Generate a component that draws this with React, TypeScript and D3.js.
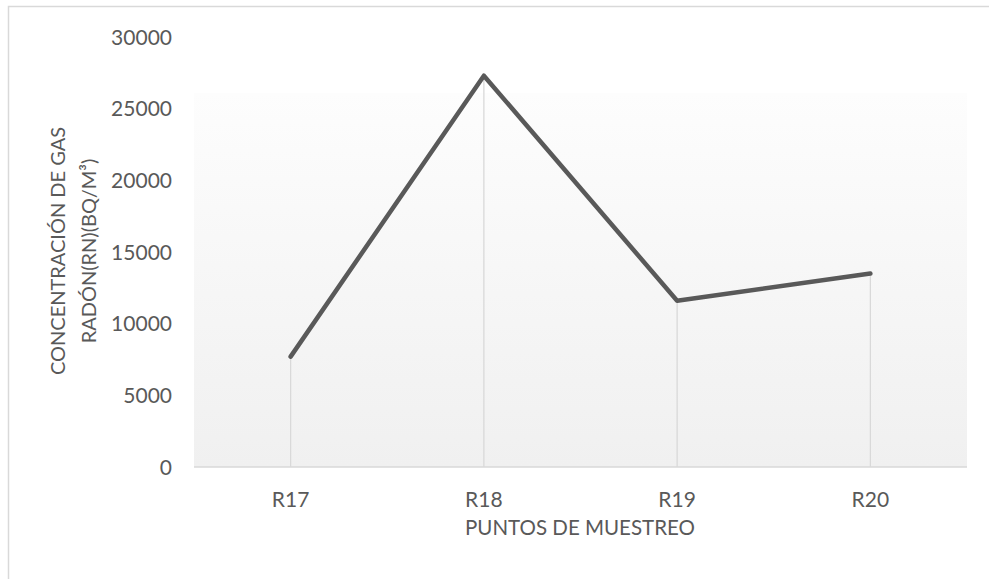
import React from 'react';
import * as d3 from 'd3';

const categories = ['R17', 'R18', 'R19', 'R20'];
const values = [7700, 27300, 11600, 13500];
const yTicks = [0, 5000, 10000, 15000, 20000, 25000, 30000];

const xTitle = 'PUNTOS DE MUESTREO';
const yTitle = ['CONCENTRACIÓN DE GAS', 'RADÓN(RN)(BQ/M³)'];

const width = 989;
const height = 579;
const plot = { left: 194, right: 967, top: 37, bottom: 467, shadeTop: 93 };

const textColor = '#595959';
const gridColor = '#d9d9d9';
const font = 'Lato, "Open Sans", sans-serif';

export default function App() {
  const x = d3
    .scaleBand<string>()
    .domain(categories)
    .range([plot.left, plot.right]);

  const y = d3
    .scaleLinear()
    .domain([0, 30000])
    .range([plot.bottom, plot.top]);

  const line = d3
    .line<number>()
    .x((d, i) => (x(categories[i]) as number) + x.bandwidth() / 2)
    .y((d) => y(d));

  const cx = (c: string) => (x(c) as number) + x.bandwidth() / 2;

  return (
    <svg
      width={width}
      height={height}
      style={{ position: 'absolute', left: 0, top: 0, background: '#fff' }}
      fontFamily={font}
    >
      <defs>
        <linearGradient id="plotShade" x1="0" y1="0" x2="0" y2="1">
          <stop offset="0%" stopColor="#fdfdfd" />
          <stop offset="100%" stopColor="#f0f0f0" />
        </linearGradient>
      </defs>

      {/* chart border */}
      <rect x={8.5} y={6.5} width={width + 20} height={height + 20} fill="none" stroke={gridColor} strokeWidth={1.5} />

      <rect
        x={plot.left}
        y={plot.shadeTop}
        width={plot.right - plot.left}
        height={plot.bottom - plot.shadeTop}
        fill="url(#plotShade)"
      />

      {/* drop lines */}
      {values.map((v, i) => (
        <line
          key={categories[i]}
          x1={cx(categories[i])}
          x2={cx(categories[i])}
          y1={y(v)}
          y2={y(0)}
          stroke={gridColor}
          strokeWidth={1.3}
        />
      ))}

      <line x1={plot.left} x2={plot.right} y1={y(0)} y2={y(0)} stroke={gridColor} strokeWidth={1.5} />

      <path
        d={line(values) || ''}
        fill="none"
        stroke="#595959"
        strokeWidth={4.5}
        strokeLinejoin="round"
        strokeLinecap="round"
      />

      {yTicks.map((t) => (
        <text key={t} x={172} y={y(t)} dy="0.36em" textAnchor="end" fontSize={21} fill={textColor}>
          {t}
        </text>
      ))}

      {categories.map((c) => (
        <text key={c} x={cx(c)} y={507} textAnchor="middle" fontSize={21} fill={textColor}>
          {c}
        </text>
      ))}

      <text x={580} y={535} textAnchor="middle" fontSize={20.5} fill={textColor}>
        {xTitle}
      </text>

      <g transform="translate(65,251) rotate(-90)">
        <text x={0} y={0} textAnchor="middle" fontSize={20} fill={textColor}>
          {yTitle[0]}
        </text>
        <text x={0} y={31} textAnchor="middle" fontSize={20} fill={textColor}>
          {yTitle[1]}
        </text>
      </g>
    </svg>
  );
}
